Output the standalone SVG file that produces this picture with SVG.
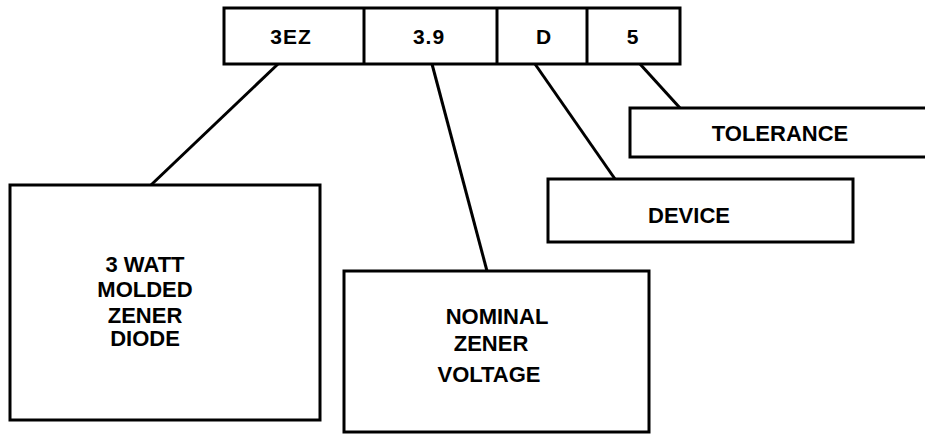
<svg xmlns="http://www.w3.org/2000/svg" width="925" height="435" viewBox="0 0 925 435">
<style>
.box{fill:#fff;stroke:#000;stroke-width:3}
.ln{stroke:#000;stroke-width:3;fill:none}
text{font-family:"Liberation Sans",Arial,sans-serif;font-weight:bold;fill:#000;text-anchor:middle}
.t20{font-size:21px;letter-spacing:1px}
.t22{font-size:22px}
</style>
<rect width="925" height="435" fill="#fff"/>
<g id="connectors">
<line class="ln" x1="278" y1="64" x2="151" y2="185"/>
<line class="ln" x1="432" y1="64" x2="487" y2="271"/>
<line class="ln" x1="535" y1="64" x2="615" y2="179"/>
<line class="ln" x1="640" y1="64" x2="680" y2="108"/>
</g>
<g id="code">
<rect class="box" x="224" y="8" width="456" height="56"/>
<line class="ln" x1="364" y1="8" x2="364" y2="64"/>
<line class="ln" x1="497" y1="8" x2="497" y2="64"/>
<line class="ln" x1="587" y1="8" x2="587" y2="64"/>
<text class="t20" x="291" y="44">3EZ</text>
<text class="t20" x="429" y="44">3.9</text>
<text class="t20" x="544" y="44">D</text>
<text class="t20" x="633" y="44">5</text>
</g>
<g id="diode">
<rect class="box" x="10" y="185" width="310" height="235"/>
<text class="t22" x="145" y="272">3 WATT</text>
<text class="t22" x="145" y="297">MOLDED</text>
<text class="t22" x="145" y="323">ZENER</text>
<text class="t22" x="145" y="346">DIODE</text>
</g>
<g id="voltage">
<rect class="box" x="344" y="271" width="305" height="161"/>
<text class="t22" x="497" y="324">NOMINAL</text>
<text class="t22" x="491" y="351">ZENER</text>
<text class="t22" x="489" y="382">VOLTAGE</text>
</g>
<g id="device">
<rect class="box" x="548" y="179" width="305" height="63"/>
<text class="t22" x="689" y="223">DEVICE</text>
</g>
<g id="tolerance">
<rect class="box" x="630" y="108" width="310" height="49"/>
<text class="t22" x="780" y="141">TOLERANCE</text>
</g>
</svg>
